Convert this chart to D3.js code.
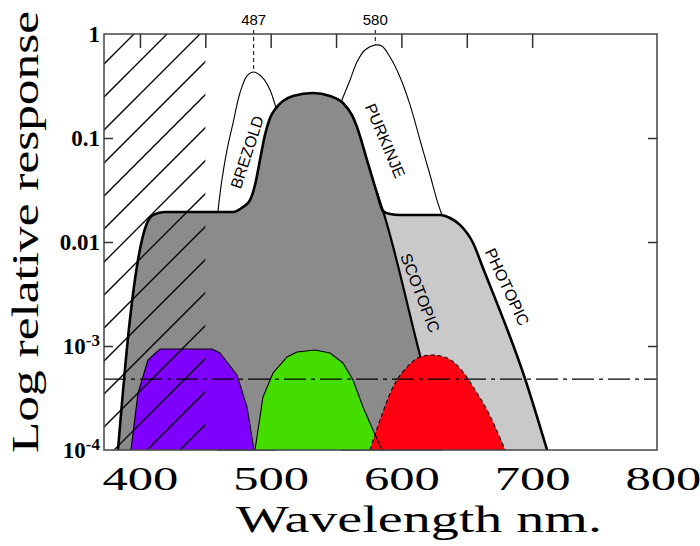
<!DOCTYPE html>
<html>
<head>
<meta charset="utf-8">
<script src="https://cdn.jsdelivr.net/npm/d3@7"></script>
<style>
  body { margin: 0; background: #fff; }
  svg { display: block; }
  .frame { fill: none; stroke: #444; stroke-width: 1.5; }
  .tick line { stroke: #333; stroke-width: 1.5; }
  .serif { font-family: "Liberation Serif", "Times New Roman", serif; fill: #000; }
  .curve-label { font-family: "Liberation Sans", Arial, sans-serif; font-size: 16px; fill: #000; }
</style>
</head>
<body>
<svg id="chart" width="700" height="546"></svg>
<script>

// ---- data: wavelength (nm) / relative response ----

// outer (photopic) envelope: left rise, plateau, main hump, plateau, fall
const photopicWl  = [383.2, 392.3, 398.5, 405.4, 409.9, 419.1, 471.2, 478.8, 484.2, 488.0,
                     491.8, 495.6, 499.5, 504.1, 509.4, 517.1, 532.4, 545.4, 555.3, 562.2,
                     566.0, 569.9, 573.7, 581.3, 585.9, 591.3, 598.9, 629.5, 637.2, 644.8,
                     654.8, 662.4, 694.6, 711.4];
const photopicVal = [1e-4, 1.78e-3, 6.7e-3, 0.0152, 0.0182, 0.0194, 0.0194, 0.0217, 0.0253, 0.0353,
                     0.0614, 0.107, 0.156, 0.194, 0.227, 0.253, 0.271, 0.253, 0.217, 0.166,
                     0.128, 0.0895, 0.0614, 0.0296, 0.0199, 0.0186, 0.0182, 0.0182, 0.0170, 0.0146,
                     0.00978, 0.00562, 4.82e-4, 1e-4];
// the scotopic curve leaves the envelope at this point and falls straight down
const scotopicBranch = 24;
const scotopicWl  = [614.2, 633.4];
const scotopicVal = [8.19e-4, 1e-4];

// Brezold and Purkinje lobes (open outlines, ending on the envelope)
const brezoldWl   = [459.7, 462.7, 466.6, 471.2, 476.5, 481.9, 487.0, 494.1, 499.5, 504.1];
const brezoldVal  = [0.0199, 0.0395, 0.0767, 0.139, 0.271, 0.395, 0.431, 0.377, 0.29, 0.194];
const purkinjeWl  = [554.5, 560.7, 566.0, 572.1, 580.0, 585.0, 591.3, 598.9, 606.6, 614.2, 621.9, 627.2, 631.0];
const purkinjeVal = [0.232, 0.361, 0.538, 0.702, 0.784, 0.767, 0.601, 0.386, 0.208, 0.0957, 0.0441, 0.0253, 0.0182];

// coloured filter bands
const purpleWl  = [393.1, 398.5, 406.1, 415.3, 455.1, 461.2, 474.2, 481.9, 487.2];
const purpleVal = [1e-4, 3.53e-4, 7.33e-4, 9.36e-4, 9.36e-4, 8.57e-4, 5.26e-4, 2.59e-4, 1e-4];
const greenWl   = [488.0, 494.1, 501.8, 512.5, 520.1, 533.9, 545.4, 555.3, 563.0, 570.6, 578.3, 585.2];
const greenVal  = [1e-4, 3.23e-4, 5.5e-4, 7.84e-4, 8.75e-4, 9.15e-4, 8.57e-4, 6.87e-4, 4.71e-4, 2.59e-4, 1.56e-4, 1e-4];
const redWl     = [576.0, 583.6, 593.6, 604.3, 614.2, 623.4, 634.9, 647.1, 656.3, 665.5, 679.3];
const redVal    = [1e-4, 1.94e-4, 4.03e-4, 6.28e-4, 7.84e-4, 8.19e-4, 7.67e-4, 5.62e-4, 3.78e-4, 2.42e-4, 1e-4];

// peak markers, threshold line, hatched (UV) band
const markerWl  = [487, 580];
const markerVal = [0.431, 0.784];
const thresholdVal = 4.8e-4;
const hatchEndWl = 450;

// axes
const xDomain = [372.5, 795.5];
const yDomain = [1e-4, 1];
const xLabelValues  = [400, 500, 600, 700, 800];
const topTickValues = [400, 450, 500, 550, 600, 650, 700];
const yTickValues   = [1, 0.1, 0.01, 1e-3, 1e-4];
const yTickLabels   = ["1", "0.1", "0.01", "10^-3", "10^-4"];
const sideTickValues = [0.1, 0.01, 1e-3];

const curveLabels = [
	{ text: "BREZOLD",  wl: 482,   val: 0.073,  angle: -72 },
	{ text: "PURKINJE", wl: 587.5, val: 0.094,  angle: 67 },
	{ text: "SCOTOPIC", wl: 614.3, val: 3.24e-3, angle: 69 },
	{ text: "PHOTOPIC", wl: 680.8, val: 3.69e-3, angle: 65 }
];

// ---- scales ----
const svg = d3.select("#chart");
const x = d3.scaleLinear().domain(xDomain).range([104, 657]);
const y = d3.scaleLog().domain(yDomain).range([450, 34]);
const base = y(yDomain[0]);

const toPts = (wl, val) => wl.map((w, i) => [x(w), y(val[i])]);

const smooth = d3.line().curve(d3.curveMonotoneX);
const smoothArea = d3.area().curve(d3.curveMonotoneX).y0(base);
const lobe = d3.line().curve(d3.curveCatmullRom.alpha(0.5));
const poly = d3.area().y0(base);

const envelope = toPts(photopicWl, photopicVal);
const scotopic = envelope.slice(0, scotopicBranch + 1).concat(toPts(scotopicWl, scotopicVal));

// ---- white lobes (their lower ends drop into the grey and get covered) ----
[[brezoldWl, brezoldVal], [purkinjeWl, purkinjeVal]].forEach(([wl, val]) => {
	const p = toPts(wl, val);
	const last = p[p.length - 1];
	svg.append("path")
		.attr("d", lobe(p) + "L" + last[0] + "," + base + "L" + p[0][0] + "," + base + "Z")
		.attr("fill", "#fff")
		.attr("stroke", "#000")
		.attr("stroke-width", 1.1);
});

// ---- grey regions ----
svg.append("path")
	.attr("d", smoothArea(envelope))
	.attr("fill", "#c9c9c9");

svg.append("path")
	.attr("d", smoothArea(scotopic))
	.attr("fill", "#8b8b8b");

svg.append("path")
	.attr("d", smooth(envelope))
	.attr("fill", "none")
	.attr("stroke", "#000")
	.attr("stroke-width", 2.6);

svg.append("path")
	.attr("d", smooth(scotopic.slice(scotopicBranch - 1)))
	.attr("fill", "none")
	.attr("stroke", "#000")
	.attr("stroke-width", 2.2);

// ---- coloured bands ----
const bands = [
	{ pts: toPts(purpleWl, purpleVal), color: "#8000ff", dash: null, gen: poly },
	{ pts: toPts(greenWl, greenVal),   color: "#44dd00", dash: null, gen: poly },
	{ pts: toPts(redWl, redVal),       color: "#ff0012", dash: "4,3", gen: smoothArea }
];

bands.forEach(b => {
	svg.append("path")
		.attr("d", b.gen(b.pts))
		.attr("fill", b.color);
});

bands.forEach(b => {
	const outline = b.gen === poly ? d3.line() : smooth;
	svg.append("path")
		.attr("d", outline(b.pts))
		.attr("fill", "none")
		.attr("stroke", "#000")
		.attr("stroke-width", 1.1)
		.attr("stroke-dasharray", b.dash);
});

// ---- hatching over the UV band ----
svg.append("clipPath")
	.attr("id", "hatch-clip")
	.append("rect")
		.attr("x", x(xDomain[0]))
		.attr("y", y(yDomain[1]))
		.attr("width", x(hatchEndWl) - x(xDomain[0]))
		.attr("height", base - y(yDomain[1]));

const hatchStep = 33;
svg.append("g")
	.attr("clip-path", "url(#hatch-clip)")
	.selectAll("line")
	.data(d3.range(135, 700, hatchStep))
	.enter()
	.append("line")
		.attr("x1", c => c - 500)
		.attr("y1", 500)
		.attr("x2", c => c)
		.attr("y2", 0)
		.attr("stroke", "#000")
		.attr("stroke-width", 1.3);

// ---- dash-dot threshold line ----
svg.append("line")
	.attr("x1", x(xDomain[0]))
	.attr("x2", x(xDomain[1]))
	.attr("y1", y(thresholdVal))
	.attr("y2", y(thresholdVal))
	.attr("stroke", "#000")
	.attr("stroke-width", 1.2)
	.attr("stroke-dasharray", "22,5,4,5");

// ---- peak markers ----
markerWl.forEach((w, i) => {
	svg.append("line")
		.attr("x1", x(w)).attr("x2", x(w))
		.attr("y1", y(yDomain[1]) - 4)
		.attr("y2", y(markerVal[i]))
		.attr("stroke", "#000")
		.attr("stroke-width", 1)
		.attr("stroke-dasharray", "4,3");
	svg.append("text")
		.attr("class", "curve-label")
		.attr("x", x(w))
		.attr("y", 25)
		.attr("text-anchor", "middle")
		.style("font-size", "15px")
		.text(w);
});

// ---- curve labels ----
svg.selectAll(".rot-label")
	.data(curveLabels)
	.enter()
	.append("text")
		.attr("class", "curve-label rot-label")
		.attr("text-anchor", "middle")
		.attr("dominant-baseline", "central")
		.attr("transform", d => "translate(" + x(d.wl) + "," + y(d.val) + ") rotate(" + d.angle + ")")
		.text(d => d.text);

// ---- frame and ticks ----
svg.append("rect")
	.attr("class", "frame")
	.attr("x", x(xDomain[0]))
	.attr("y", y(yDomain[1]))
	.attr("width", x(xDomain[1]) - x(xDomain[0]))
	.attr("height", base - y(yDomain[1]));

svg.append("g")
	.attr("transform", "translate(0," + y(yDomain[1]) + ")")
	.call(d3.axisTop(x).tickValues(topTickValues).tickSize(-14).tickFormat(""))
	.call(g => g.select(".domain").remove());

svg.append("g")
	.attr("transform", "translate(" + x(xDomain[0]) + ",0)")
	.call(d3.axisLeft(y).tickValues(sideTickValues).tickSize(-9).tickFormat(""))
	.call(g => g.select(".domain").remove());

svg.append("g")
	.attr("transform", "translate(" + x(xDomain[1]) + ",0)")
	.call(d3.axisRight(y).tickValues(sideTickValues).tickSize(-9).tickFormat(""))
	.call(g => g.select(".domain").remove());

// ---- tick labels ----
const yAxis = svg.append("g")
	.attr("transform", "translate(" + x(xDomain[0]) + ",0)")
	.call(d3.axisLeft(y).tickValues(yTickValues).tickSize(0).tickPadding(4)
		.tickFormat((d, i) => yTickLabels[i]));
yAxis.select(".domain").remove();
yAxis.selectAll("text")
	.attr("class", "serif")
	.style("font-size", "23px")
	.style("font-weight", "bold")
	.each(function(d, i) {
		const parts = yTickLabels[i].split("^");
		if (parts.length < 2) return;
		const t = d3.select(this).text("");
		t.append("tspan").text(parts[0]);
		t.append("tspan")
			.attr("dy", "-0.45em")
			.style("font-size", "17px")
			.text(parts[1]);
	});

const xAxis = svg.append("g")
	.attr("transform", "translate(0," + base + ")")
	.call(d3.axisBottom(x).tickValues(xLabelValues).tickSize(0));
xAxis.select(".domain").remove();
xAxis.selectAll("text")
	.attr("class", "serif")
	.attr("y", 40)
	.attr("dy", 0)
	.attr("textLength", 76)
	.attr("lengthAdjust", "spacingAndGlyphs")
	.style("font-size", "34px");

// ---- axis titles ----
svg.append("text")
	.attr("class", "serif")
	.attr("transform", "translate(38,232) rotate(-90)")
	.attr("text-anchor", "middle")
	.attr("textLength", 442)
	.attr("lengthAdjust", "spacingAndGlyphs")
	.style("font-size", "38px")
	.text("Log relative response");

svg.append("text")
	.attr("class", "serif")
	.attr("x", 419)
	.attr("y", 532)
	.attr("text-anchor", "middle")
	.attr("textLength", 366)
	.attr("lengthAdjust", "spacingAndGlyphs")
	.style("font-size", "37px")
	.text("Wavelength nm.");

</script>
</body>
</html>
